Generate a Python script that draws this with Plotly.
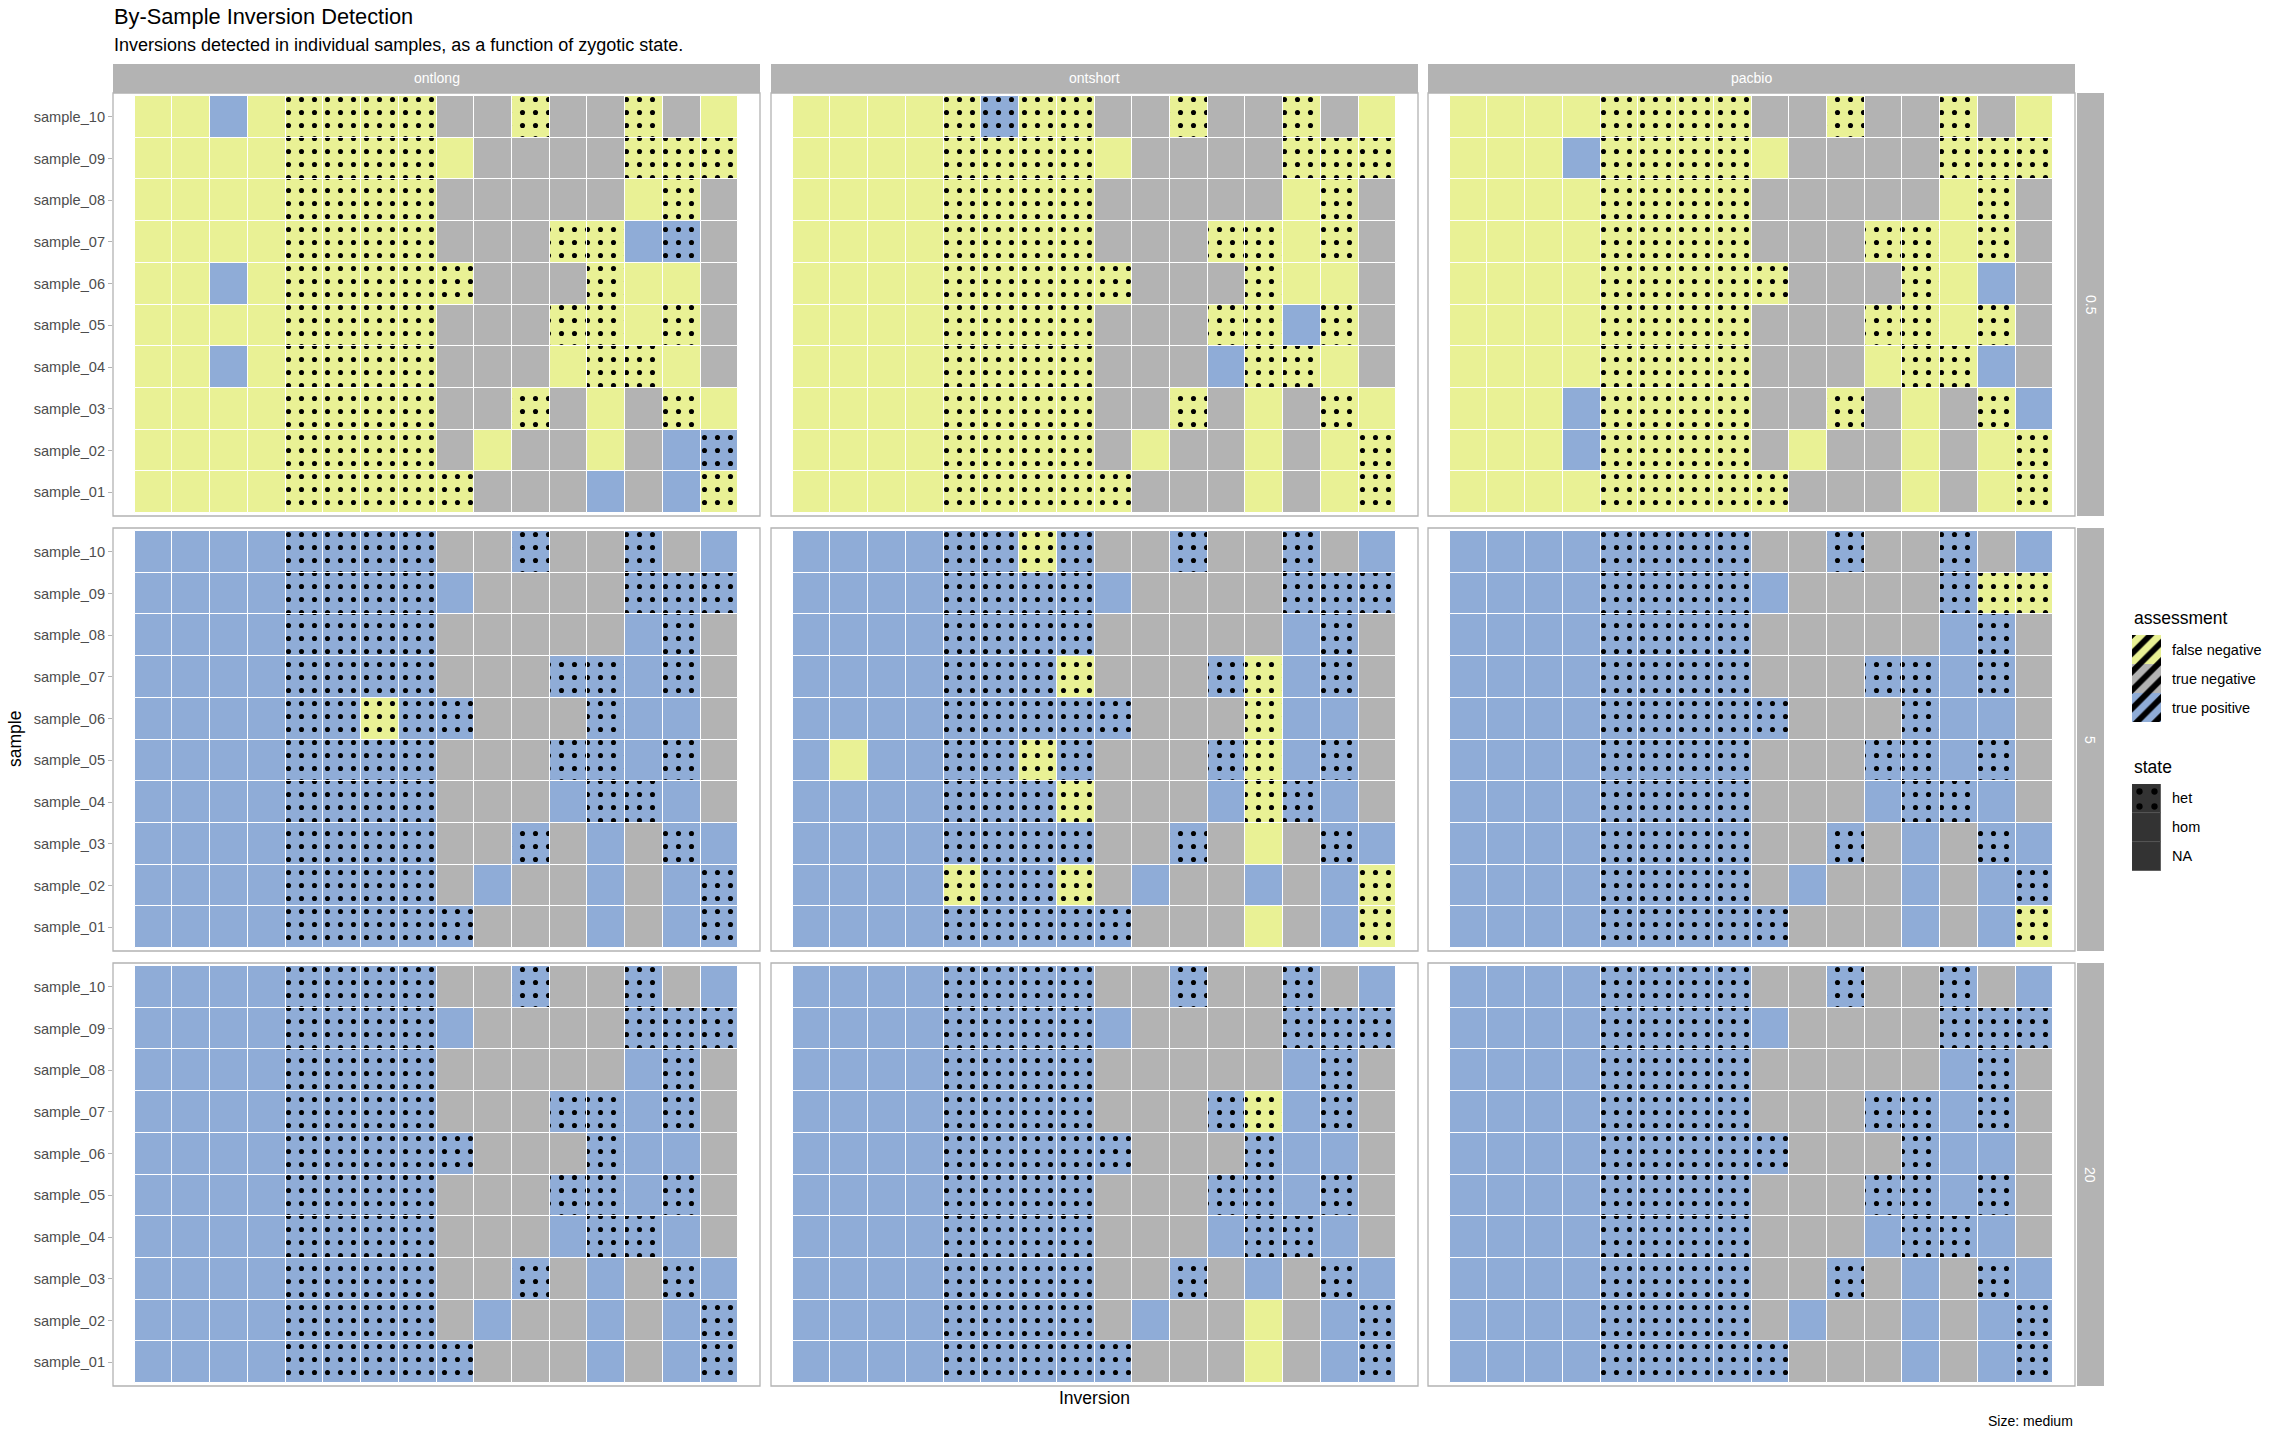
import plotly.graph_objects as go

W, H = 2280, 1440
FONT = "Liberation Sans"

# ---------------- data ----------------
inversions = ["inv01", "inv02", "inv03", "inv04", "inv05", "inv06", "inv07", "inv08",
              "inv09", "inv10", "inv11", "inv12", "inv13", "inv14", "inv15", "inv16"]
samples = ["sample_10", "sample_09", "sample_08", "sample_07", "sample_06",
           "sample_05", "sample_04", "sample_03", "sample_02", "sample_01"]  # top -> bottom
methods = ["ontlong", "ontshort", "pacbio"]
depths = ["0.5", "5", "20"]

assessment_codes = {"F": "false negative", "N": "true negative", "P": "true positive"}
assessment_colors = {"false negative": "#E9F195", "true negative": "#B3B3B3", "true positive": "#8FACD7"}
state_codes = {"h": "het", "o": "hom", "-": "NA"}
state_names = ["het", "hom", "NA"]

# zygotic state of each sample x inversion (same for every panel)
state_grid = [
    "oooohhhh--h--h-o",
    "oooohhhho----hhh",
    "oooohhhh-----oh-",
    "oooohhhh---hhoh-",
    "oooohhhhh---hoo-",
    "oooohhhh---hhoh-",
    "oooohhhh---ohho-",
    "oooohhhh--h-o-ho",
    "oooohhhh-o--o-oh",
    "oooohhhhh---o-oh",
]

# assessment per panel: F = false negative, N = true negative, P = true positive
ontlong_0_5 = [
    "FFPFFFFFNNFNNFNF", "FFFFFFFFFNNNNFFF", "FFFFFFFFNNNNNFFN", "FFFFFFFFNNNFFPPN",
    "FFPFFFFFFNNNFFFN", "FFFFFFFFNNNFFFFN", "FFPFFFFFNNNFFFFN", "FFFFFFFFNNFNFNFF",
    "FFFFFFFFNFNNFNPP", "FFFFFFFFFNNNPNPF",
]
ontshort_0_5 = [
    "FFFFFPFFNNFNNFNF", "FFFFFFFFFNNNNFFF", "FFFFFFFFNNNNNFFN", "FFFFFFFFNNNFFFFN",
    "FFFFFFFFFNNNFFFN", "FFFFFFFFNNNFFPFN", "FFFFFFFFNNNPFFFN", "FFFFFFFFNNFNFNFF",
    "FFFFFFFFNFNNFNFF", "FFFFFFFFFNNNFNFF",
]
pacbio_0_5 = [
    "FFFFFFFFNNFNNFNF", "FFFPFFFFFNNNNFFF", "FFFFFFFFNNNNNFFN", "FFFFFFFFNNNFFFFN",
    "FFFFFFFFFNNNFFPN", "FFFFFFFFNNNFFFFN", "FFFFFFFFNNNFFFPN", "FFFPFFFFNNFNFNFP",
    "FFFPFFFFNFNNFNFF", "FFFFFFFFFNNNFNFF",
]
ontlong_5 = [
    "PPPPPPPPNNPNNPNP", "PPPPPPPPPNNNNPPP", "PPPPPPPPNNNNNPPN", "PPPPPPPPNNNPPPPN",
    "PPPPPPFPPNNNPPPN", "PPPPPPPPNNNPPPPN", "PPPPPPPPNNNPPPPN", "PPPPPPPPNNPNPNPP",
    "PPPPPPPPNPNNPNPP", "PPPPPPPPPNNNPNPP",
]
ontshort_5 = [
    "PPPPPPFPNNPNNPNP", "PPPPPPPPPNNNNPPP", "PPPPPPPPNNNNNPPN", "PPPPPPPFNNNPFPPN",
    "PPPPPPPPPNNNFPPN", "PFPPPPFPNNNPFPPN", "PPPPPPPFNNNPFPPN", "PPPPPPPPNNPNFNPP",
    "PPPPFPPFNPNNPNPF", "PPPPPPPPPNNNFNPF",
]
pacbio_5 = [
    "PPPPPPPPNNPNNPNP", "PPPPPPPPPNNNNPFF", "PPPPPPPPNNNNNPPN", "PPPPPPPPNNNPPPPN",
    "PPPPPPPPPNNNPPPN", "PPPPPPPPNNNPPPPN", "PPPPPPPPNNNPPPPN", "PPPPPPPPNNPNPNPP",
    "PPPPPPPPNPNNPNPP", "PPPPPPPPPNNNPNPF",
]
ontlong_20 = [
    "PPPPPPPPNNPNNPNP", "PPPPPPPPPNNNNPPP", "PPPPPPPPNNNNNPPN", "PPPPPPPPNNNPPPPN",
    "PPPPPPPPPNNNPPPN", "PPPPPPPPNNNPPPPN", "PPPPPPPPNNNPPPPN", "PPPPPPPPNNPNPNPP",
    "PPPPPPPPNPNNPNPP", "PPPPPPPPPNNNPNPP",
]
ontshort_20 = [
    "PPPPPPPPNNPNNPNP", "PPPPPPPPPNNNNPPP", "PPPPPPPPNNNNNPPN", "PPPPPPPPNNNPFPPN",
    "PPPPPPPPPNNNPPPN", "PPPPPPPPNNNPPPPN", "PPPPPPPPNNNPPPPN", "PPPPPPPPNNPNPNPP",
    "PPPPPPPPNPNNFNPP", "PPPPPPPPPNNNFNPP",
]
pacbio_20 = [
    "PPPPPPPPNNPNNPNP", "PPPPPPPPPNNNNPPP", "PPPPPPPPNNNNNPPN", "PPPPPPPPNNNPPPPN",
    "PPPPPPPPPNNNPPPN", "PPPPPPPPNNNPPPPN", "PPPPPPPPNNNPPPPN", "PPPPPPPPNNPNPNPP",
    "PPPPPPPPNPNNPNPP", "PPPPPPPPPNNNPNPP",
]

panels = {
    ("0.5", "ontlong"): ontlong_0_5, ("0.5", "ontshort"): ontshort_0_5, ("0.5", "pacbio"): pacbio_0_5,
    ("5", "ontlong"): ontlong_5, ("5", "ontshort"): ontshort_5, ("5", "pacbio"): pacbio_5,
    ("20", "ontlong"): ontlong_20, ("20", "ontshort"): ontshort_20, ("20", "pacbio"): pacbio_20,
}

# ---------------- layout geometry (pixels) ----------------
col_px = [(113, 760), (771, 1418), (1428, 2075)]
row_px = [(93, 516), (528, 951), (963, 1386)]
STRIP_TOP = (64, 93)
STRIP_RIGHT = (2077, 2104)
STRIP_FILL = "#B3B3B3"


def fx(px):
    return px / W


def fy(px):
    return 1 - px / H


fig = go.Figure()
layout = dict(
    width=W, height=H, margin=dict(l=0, r=0, t=0, b=0),
    paper_bgcolor="white", plot_bgcolor="white",
    barmode="overlay", bargap=0, showlegend=False,
    font=dict(family=FONT, color="black"),
)
shapes = []
annotations = []

DOT = dict(shape=".", fgcolor="black", fgopacity=1, size=13, solidity=0.12)

k = 0
for i, depth in enumerate(depths):
    for j, method in enumerate(methods):
        k += 1
        xa = "x" if k == 1 else f"x{k}"
        ya = "y" if k == 1 else f"y{k}"
        grid = panels[(depth, method)]
        groups = {}
        for r, sample in enumerate(samples):
            for c, inv in enumerate(inversions):
                a = assessment_codes[grid[r][c]]
                s = state_codes[state_grid[r][c]]
                groups.setdefault((a, s), []).append((sample, c, inv))
        for (a, s), cells in groups.items():
            fill = assessment_colors[a]
            pattern = dict(DOT, bgcolor=fill) if s == "het" else dict(shape="")
            fig.add_trace(go.Bar(
                orientation="h",
                y=[cell[0] for cell in cells],
                x=[1] * len(cells),
                base=[cell[1] - 0.5 for cell in cells],
                width=1,
                customdata=[[cell[2], a, s] for cell in cells],
                hovertemplate="%{y} %{customdata[0]}<br>%{customdata[1]} (%{customdata[2]})<extra></extra>",
                marker=dict(color=fill, line=dict(color="white", width=1), pattern=pattern),
                xaxis=xa, yaxis=ya,
            ))
        x0, x1 = col_px[j]
        y0, y1 = row_px[i]
        left = j == 0
        layout["xaxis" if k == 1 else f"xaxis{k}"] = dict(
            domain=[fx(x0), fx(x1)], range=[-1.07, 15 + 1.07], anchor=ya,
            showticklabels=False, showgrid=False, zeroline=False, ticks="", fixedrange=True,
        )
        layout["yaxis" if k == 1 else f"yaxis{k}"] = dict(
            domain=[fy(y1), fy(y0)], anchor=xa, type="category",
            categoryorder="array", categoryarray=samples[::-1], range=[-0.57, 9.57],
            showgrid=False, zeroline=False, showticklabels=left,
            ticks="outside" if left else "", ticklen=4, tickwidth=1, tickcolor=STRIP_FILL,
            tickfont=dict(size=14.6, color="#4D4D4D", family=FONT), fixedrange=True,
        )
        # panel border
        shapes.append(dict(type="rect", xref="paper", yref="paper",
                           x0=fx(x0), x1=fx(x1), y0=fy(y1), y1=fy(y0),
                           line=dict(color=STRIP_FILL, width=1.3), fillcolor="rgba(0,0,0,0)", layer="above"))

# top strips
for j, method in enumerate(methods):
    x0, x1 = col_px[j]
    shapes.append(dict(type="rect", xref="paper", yref="paper", x0=fx(x0), x1=fx(x1),
                       y0=fy(STRIP_TOP[1]), y1=fy(STRIP_TOP[0]), fillcolor=STRIP_FILL,
                       line=dict(width=0), layer="below"))
    annotations.append(dict(text=method, xref="paper", yref="paper", x=fx((x0 + x1) / 2),
                            y=fy(sum(STRIP_TOP) / 2), showarrow=False, xanchor="center", yanchor="middle",
                            font=dict(size=14, color="white", family=FONT)))
# right strips
for i, depth in enumerate(depths):
    y0, y1 = row_px[i]
    shapes.append(dict(type="rect", xref="paper", yref="paper", x0=fx(STRIP_RIGHT[0]), x1=fx(STRIP_RIGHT[1]),
                       y0=fy(y1), y1=fy(y0), fillcolor=STRIP_FILL, line=dict(width=0), layer="below"))
    annotations.append(dict(text=depth, xref="paper", yref="paper", x=fx(sum(STRIP_RIGHT) / 2),
                            y=fy((y0 + y1) / 2), showarrow=False, textangle=90, xanchor="center", yanchor="middle",
                            font=dict(size=14, color="white", family=FONT)))

# ---------------- legend (drawn as small bar axes) ----------------
assess_order = ["false negative", "true negative", "true positive"]
k += 1
ka = k
for a in assess_order:
    fig.add_trace(go.Bar(orientation="h", y=[a], x=[1], base=[0], width=1,
                         marker=dict(color=assessment_colors[a], line=dict(width=0),
                                     pattern=dict(shape="/", fgcolor="black", fgopacity=1,
                                                  bgcolor=assessment_colors[a], size=13, solidity=0.45)),
                         hoverinfo="skip", xaxis=f"x{ka}", yaxis=f"y{ka}"))
layout[f"xaxis{ka}"] = dict(domain=[fx(2132), fx(2161)], range=[0, 1], anchor=f"y{ka}", visible=False, fixedrange=True)
layout[f"yaxis{ka}"] = dict(domain=[fy(722), fy(635)], anchor=f"x{ka}", type="category", categoryorder="array",
                            categoryarray=assess_order[::-1], range=[-0.5, 2.5], visible=False, fixedrange=True)
for a in assess_order:
    annotations.append(dict(text=a, xref="paper", yref=f"y{ka}", x=fx(2170), y=a, showarrow=False,
                            xanchor="left", yanchor="middle", font=dict(size=14.5, color="black", family=FONT)))

k += 1
ks = k
for s in state_names:
    pat = dict(shape=".", fgcolor="black", fgopacity=1, bgcolor="#333333", size=15, solidity=0.14) if s == "het" else dict(shape="")
    fig.add_trace(go.Bar(orientation="h", y=[s], x=[1], base=[0], width=1,
                         marker=dict(color="#333333", line=dict(color="#555555", width=0.8), pattern=pat),
                         hoverinfo="skip", xaxis=f"x{ks}", yaxis=f"y{ks}"))
layout[f"xaxis{ks}"] = dict(domain=[fx(2132), fx(2161)], range=[0, 1], anchor=f"y{ks}", visible=False, fixedrange=True)
layout[f"yaxis{ks}"] = dict(domain=[fy(871), fy(784)], anchor=f"x{ks}", type="category", categoryorder="array",
                            categoryarray=state_names[::-1], range=[-0.5, 2.5], visible=False, fixedrange=True)
for s in state_names:
    annotations.append(dict(text=s, xref="paper", yref=f"y{ks}", x=fx(2170), y=s, showarrow=False,
                            xanchor="left", yanchor="middle", font=dict(size=14.5, color="black", family=FONT)))

# legend titles
annotations.append(dict(text="assessment", xref="paper", yref="paper", x=fx(2132), y=fy(618), showarrow=False,
                        xanchor="left", yanchor="middle", font=dict(size=17.5, color="black", family=FONT)))
annotations.append(dict(text="state", xref="paper", yref="paper", x=fx(2132), y=fy(767), showarrow=False,
                        xanchor="left", yanchor="middle", font=dict(size=17.5, color="black", family=FONT)))

# titles & axis titles
annotations += [
    dict(text="By-Sample Inversion Detection", xref="paper", yref="paper", x=fx(112), y=fy(17),
         showarrow=False, xanchor="left", yanchor="middle", font=dict(size=21.8, color="black", family=FONT)),
    dict(text="Inversions detected in individual samples, as a function of zygotic state.", xref="paper",
         yref="paper", x=fx(112), y=fy(45), showarrow=False, xanchor="left", yanchor="middle",
         font=dict(size=18, color="black", family=FONT)),
    dict(text="sample", xref="paper", yref="paper", x=fx(15), y=fy(739), showarrow=False, textangle=-90,
         xanchor="center", yanchor="middle", font=dict(size=17.5, color="black", family=FONT)),
    dict(text="Inversion", xref="paper", yref="paper", x=fx(1094), y=fy(1398), showarrow=False,
         xanchor="center", yanchor="middle", font=dict(size=17.5, color="black", family=FONT)),
    dict(text="Size: medium", xref="paper", yref="paper", x=fx(2075), y=fy(1421), showarrow=False,
         xanchor="right", yanchor="middle", font=dict(size=14, color="black", family=FONT)),
]

layout["shapes"] = shapes
layout["annotations"] = annotations
fig.update_layout(**layout)
fig.write_html("out.html", config={"displayModeBar": False})

# remove the browser's default page margin so the figure sits at the page origin
with open("out.html", "r", encoding="utf-8") as fh:
    html = fh.read()
html = html.replace("<body>", '<body style="margin:0;padding:0;overflow:hidden">', 1)
with open("out.html", "w", encoding="utf-8") as fh:
    fh.write(html)
